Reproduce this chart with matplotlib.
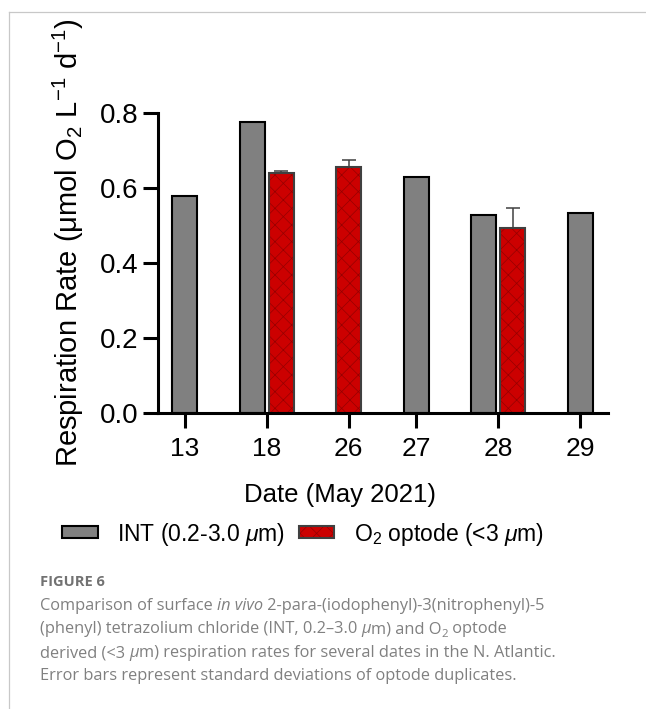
import numpy as np
import matplotlib
matplotlib.use("Agg")
import matplotlib.pyplot as plt
from matplotlib.patches import Patch
from matplotlib.lines import Line2D
from matplotlib.text import Annotation

plt.rcParams['font.family'] = ['Liberation Sans', 'DejaVu Sans']
plt.rcParams['mathtext.fontset'] = 'custom'
plt.rcParams['mathtext.rm'] = 'Liberation Sans'
plt.rcParams['mathtext.it'] = 'Liberation Sans:italic'
plt.rcParams['hatch.linewidth'] = 0.5

# data
dates = ['13', '18', '26', '27', '28', '29']
int_rate = [0.58, 0.778, np.nan, 0.63, 0.529, 0.533]
optode_rate = [np.nan, 0.642, 0.658, np.nan, 0.493, np.nan]
optode_sd = [np.nan, 0.005, 0.017, np.nan, 0.055, np.nan]

gray = '#808080'
red = '#cc0000'
hatch_col = '#960000'

fig = plt.figure(figsize=(6.46, 7.09), dpi=100)
ax = fig.add_axes([158/646, 1 - 413.3/709, 450/646, 300/709])

# bar layout (Prism-like: bars in a group close together, groups separated)
bw = 25.0
inner = 4.0
outer = 42.5
cursor = 14.0
int_x, opt_x, ticks = [], [], []
for i in range(len(dates)):
    has_int = not np.isnan(int_rate[i])
    has_opt = not np.isnan(optode_rate[i])
    n = int(has_int) + int(has_opt)
    width = n * bw + (n - 1) * inner
    ticks.append(cursor + width / 2)
    pos = cursor
    if has_int:
        int_x.append(pos + bw / 2)
        pos += bw + inner
    else:
        int_x.append(np.nan)
    if has_opt:
        opt_x.append(pos + bw / 2)
    else:
        opt_x.append(np.nan)
    cursor += width + outer

int_x = np.array(int_x)
opt_x = np.array(opt_x)
int_rate = np.array(int_rate)
optode_rate = np.array(optode_rate)
optode_sd = np.array(optode_sd)
mi = ~np.isnan(int_rate)
mo = ~np.isnan(optode_rate)

ax.bar(int_x[mi], int_rate[mi], bw, color=gray, edgecolor='black', linewidth=1.5, zorder=2)
ax.bar(opt_x[mo], optode_rate[mo], bw, color=red, edgecolor=hatch_col, hatch='xx', linewidth=0, zorder=2)
ax.bar(opt_x[mo], optode_rate[mo], bw, fill=False, edgecolor='#404040', linewidth=1.5, zorder=3)
ax.errorbar(opt_x[mo], optode_rate[mo], yerr=[np.zeros(mo.sum()), optode_sd[mo]], fmt='none',
            ecolor='#404040', elinewidth=1.1, capsize=4.7, capthick=1.1, zorder=1)

ax.set_xlim(0, 450)
ax.set_ylim(0, 0.8)
ax.set_yticks([0, 0.2, 0.4, 0.6, 0.8])
ax.set_yticklabels(['0.0', '0.2', '0.4', '0.6', '0.8'])
ax.set_xticks(ticks)
ax.set_xticklabels(dates)
for s in ['top', 'right']:
    ax.spines[s].set_visible(False)
for s in ['left', 'bottom']:
    ax.spines[s].set_linewidth(2.2)
    ax.spines[s].set_zorder(4)
ax.tick_params(axis='both', length=11, width=2.2)
ax.tick_params(axis='y', pad=3, labelsize=20)
ax.tick_params(axis='x', pad=6, labelsize=19)

ax.set_ylabel('Respiration Rate (μmol O$_2$ L$^{-1}$ d$^{-1}$)', fontsize=21)
ax.yaxis.label.set_va('center')
ax.yaxis.set_label_coords(-0.198, 0.568)
ax.set_xlabel('Date (May 2021)', fontsize=18.5)
ax.xaxis.label.set_va('center')
ax.xaxis.set_label_coords(0.404, -0.272)

# legend
h_int = Patch(facecolor=gray, edgecolor='black', linewidth=1.5)
h_opt = (Patch(facecolor=red, edgecolor=hatch_col, hatch='xx', linewidth=0),
         Patch(fill=False, edgecolor='#404040', linewidth=1.5))
fig.legend([h_int, h_opt], ['INT (0.2-3.0 $\\mu$m)', 'O$_2$ optode (<3 $\\mu$m)'],
           loc='center left', bbox_to_anchor=(62/646, 1 - 534/709), ncol=2, frameon=False,
           fontsize=16.5, handlelength=1.55, handleheight=0.45, handletextpad=0.85,
           columnspacing=0.6, borderpad=0, borderaxespad=0)

# frame lines of the page
fig.add_artist(Line2D([9/646, 1], [1 - 12/709, 1 - 12/709], transform=fig.transFigure,
                      color='#c8c8c8', linewidth=0.9))
fig.add_artist(Line2D([9/646, 9/646], [1 - 12/709, 0], transform=fig.transFigure,
                      color='#c8c8c8', linewidth=0.9))

# caption
cap_font = ['Open Sans', 'DejaVu Sans']
cap_col = '#808080'
cap_size = 11.8
fig.text(40/646, 1 - 582/709, 'FIGURE 6', fontsize=10.5, fontweight='bold', color='#727272',
         family=cap_font, va='center')

# (text, style, subscript?)
lines = [
    [('Comparison of surface ', 'normal', False), ('in vivo', 'italic', False),
     (' 2-para-(iodophenyl)-3(nitrophenyl)-5', 'normal', False)],
    [('(phenyl) tetrazolium chloride (INT, 0.2\u20133.0 ', 'normal', False), ('μ', 'italic', False),
     ('m) and O', 'normal', False), ('2', 'normal', True), (' optode', 'normal', False)],
    [('derived (<3 ', 'normal', False), ('μ', 'italic', False),
     ('m) respiration rates for several dates in the N. Atlantic.', 'normal', False)],
    [('Error bars represent standard deviations of optode duplicates.', 'normal', False)],
]
line_y = [605, 628, 652, 675]
for parts, yy in zip(lines, line_y):
    first = None
    prev = None
    for txt, st, sub in parts:
        if first is None:
            first = fig.text(40/646, 1 - (yy + 9)/709, txt, fontsize=cap_size, color=cap_col,
                             family=cap_font, style=st, va='bottom', ha='left')
            prev = first
        elif sub:
            prev = fig.add_artist(Annotation(
                txt, xy=(1, 0), xycoords=(prev, first), xytext=(0, -2), textcoords='offset points',
                fontsize=cap_size * 0.7, color=cap_col, family=cap_font, va='bottom', ha='left'))
        else:
            prev = fig.add_artist(Annotation(
                txt, xy=(1, 0), xycoords=(prev, first), fontsize=cap_size, color=cap_col,
                family=cap_font, style=st, va='bottom', ha='left'))

fig.savefig('out.png', dpi=100)
